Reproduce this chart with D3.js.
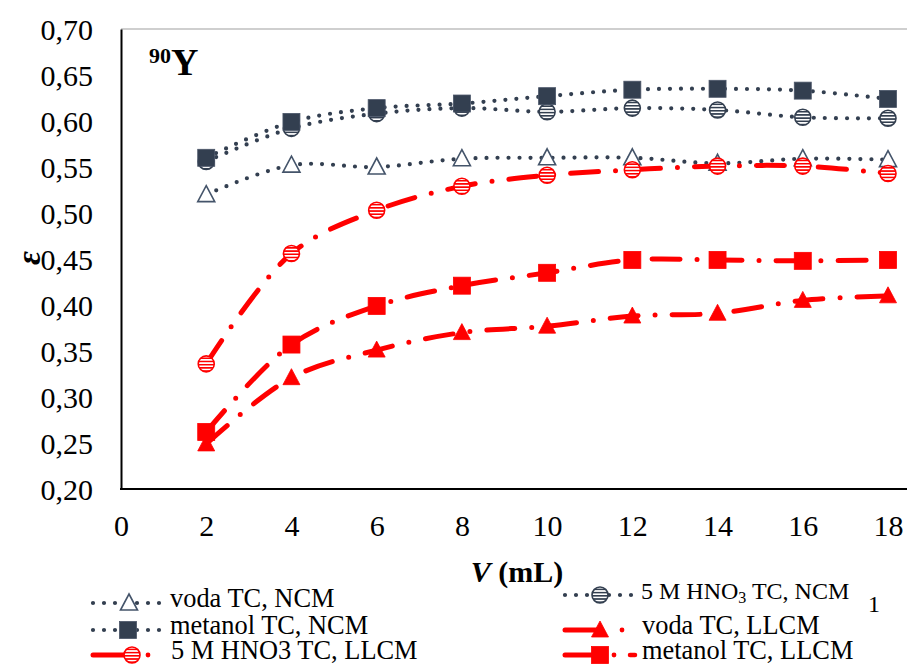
<!DOCTYPE html>
<html><head><meta charset="utf-8">
<script src="https://cdn.jsdelivr.net/npm/d3@7"></script>
</head>
<body style="margin:0;background:#fff">
<svg id="chart" width="907" height="666"></svg>
<script>
const volumes = [2,4,6,8,10,12,14,16,18];
const xTicks = [0,2,4,6,8,10,12,14,16,18];
const yTicks = [0.20,0.25,0.30,0.35,0.40,0.45,0.50,0.55,0.60,0.65,0.70];
const vodaNCM     = [0.520,0.552,0.550,0.559,0.560,0.560,0.554,0.559,0.558];
const hno3NCM     = [0.556,0.592,0.608,0.614,0.610,0.614,0.612,0.604,0.603];
const metanolNCM  = [0.560,0.599,0.614,0.619,0.627,0.634,0.635,0.633,0.624];
const vodaLLCM    = [0.249,0.321,0.351,0.370,0.377,0.388,0.391,0.405,0.410];
const hno3LLCM    = [0.336,0.456,0.503,0.529,0.541,0.547,0.551,0.551,0.543];
const metanolLLCM = [0.262,0.357,0.399,0.421,0.435,0.449,0.449,0.448,0.449];

const DARK = "#333F50", RED = "#FF0000";
const FONT = "Liberation Serif";
const series = [
  {name:"voda TC, NCM", values:vodaNCM, color:DARK, line:"dot", marker:"tri-open"},
  {name:"5 M HNO3 TC, NCM", values:hno3NCM, color:DARK, line:"dot", marker:"circle-stripe"},
  {name:"metanol TC, NCM", values:metanolNCM, color:DARK, line:"dot", marker:"square"},
  {name:"voda TC, LLCM", values:vodaLLCM, color:RED, line:"dashdot", marker:"tri"},
  {name:"5 M HNO3 TC, LLCM", values:hno3LLCM, color:RED, line:"dashdot", marker:"circle-stripe"},
  {name:"metanol TC, LLCM", values:metanolLLCM, color:RED, line:"dashdot", marker:"square"}
];

const svg = d3.select("#chart");
const x = d3.scaleLinear().domain([0,18]).range([121,888]);
const y = d3.scaleLinear().domain([0.20,0.70]).range([489,29]);

const defs = svg.append("defs");
[["stripeDark",DARK],["stripeRed",RED]].forEach(([id,c])=>{
  const p = defs.append("pattern").attr("id",id)
    .attr("patternUnits","objectBoundingBox").attr("patternContentUnits","objectBoundingBox")
    .attr("width",1).attr("height",0.2);
  p.append("rect").attr("width",1).attr("height",0.2).attr("fill","#fff");
  p.append("rect").attr("y",0.1).attr("width",1).attr("height",0.1).attr("fill",c);
});

svg.append("line").attr("x1",121).attr("x2",907).attr("y1",29).attr("y2",29)
  .attr("stroke","#BFBFBF").attr("stroke-width",1.5);

const yAxis = d3.axisLeft(y).tickValues(yTicks).tickSize(0).tickPadding(28)
  .tickFormat(d=>d3.format(".2f")(d).replace(".",","));
const gy = svg.append("g").attr("transform","translate(121,0)").call(yAxis);
gy.select(".domain").attr("stroke","#000").attr("stroke-width",2);
gy.selectAll("text").style("font-family",FONT).style("font-size","30px").attr("fill","#000").attr("dy","0.34em");

const xAxis = d3.axisBottom(x).tickValues(xTicks).tickSize(0).tickPadding(26).tickFormat(d3.format("d"));
const gx = svg.append("g").attr("transform","translate(0,489)").call(xAxis);
gx.select(".domain").remove();
svg.append("line").attr("x1",120).attr("x2",907).attr("y1",489).attr("y2",489)
  .attr("stroke","#000").attr("stroke-width",2);
gx.selectAll("text").style("font-family",FONT).style("font-size","30px").attr("fill","#000");

const xt = svg.append("text").attr("x",517).attr("y",582).attr("text-anchor","middle")
  .style("font-family",FONT).style("font-size","30px").style("font-weight","bold");
xt.append("tspan").style("font-style","italic").text("V");
xt.append("tspan").text(" (mL)");
svg.append("text").attr("transform","translate(40,258) rotate(-90)").attr("text-anchor","middle")
  .style("font-family",FONT).style("font-size","34px").style("font-weight","bold").style("font-style","italic").text("ε");

const iso = svg.append("text").attr("x",149).attr("y",75).style("font-family",FONT).style("font-weight","bold");
iso.append("tspan").style("font-size","22px").attr("dy",-12).text("90");
iso.append("tspan").style("font-size","38px").attr("dy",12).text("Y");

function lineStyle(sel, s){
  sel.attr("fill","none").attr("stroke",s.color).attr("stroke-linecap","round");
  if(s.line==="dot") sel.attr("stroke-width",4.2).attr("stroke-dasharray","0 11");
  else sel.attr("stroke-width",5).attr("stroke-dasharray","28 17 0 17");
}
function drawMarker(g, s, cx, cy){
  const c = s.color;
  if(s.marker==="square"){
    g.append("rect").attr("x",cx-8.5).attr("y",cy-8.5).attr("width",17).attr("height",17)
      .attr("fill",c).attr("stroke", c===DARK?"#4a5568":c).attr("stroke-width",0.8);
  } else if(s.marker==="tri"||s.marker==="tri-open"){
    const h=16,w=17;
    const pts=[[cx,cy-h/2-1],[cx+w/2,cy+h/2-1],[cx-w/2,cy+h/2-1]];
    g.append("path").attr("d",d3.line()(pts)+"Z")
      .attr("fill",s.marker==="tri"?c:"#fff").attr("stroke",s.marker==="tri"?c:"#44546A")
      .attr("stroke-width",s.marker==="tri"?0.8:1.6);
  } else {
    g.append("circle").attr("cx",cx).attr("cy",cy).attr("r",8)
      .attr("fill",c===DARK?"url(#stripeDark)":"url(#stripeRed)")
      .attr("stroke",c).attr("stroke-width",1.6);
  }
}

const lineGen = d3.line().x((d,i)=>x(volumes[i])).y(d=>y(d)).curve(d3.curveCatmullRom.alpha(0.5));
series.forEach(s=>{
  const g = svg.append("g");
  g.append("path").datum(s.values).attr("d",lineGen).call(lineStyle,s);
  s.values.forEach((v,i)=>drawMarker(g,s,x(volumes[i]),y(v)));
});

// legend: dotted samples for NCM, solid lead + dot(s) for LLCM
const legend = [
  {s:series[0], x0:93, x1:162, mx:129, ty:611, tx:170, fs:26.4, label:[["voda TC, NCM"]]},
  {s:series[1], x0:565, x1:633, mx:600, ty:603, tx:641, fs:24, label:[["5 M HNO"],["3","sub"],[" TC, NCM"]]},
  {s:series[2], x0:93, x1:162, mx:128, ty:638, tx:170, fs:26.4, label:[["metanol TC, NCM"]]},
  {s:series[3], x0:565, mx:600, dots:[622], ty:638, tx:642, fs:26.4, label:[["voda TC, LLCM"]]},
  {s:series[4], x0:93, mx:132, dots:[148], ty:663, tx:171, fs:26.4, label:[["5 M HNO3 TC, LLCM"]]},
  {s:series[5], x0:565, mx:600, dots:[614], dash:[630,635], ty:663, tx:642, fs:26.4, label:[["metanol TC, LLCM"]]}
];
legend.forEach(L=>{
  const g = svg.append("g");
  const ly = L.ty-8;
  if(L.s.line==="dot"){
    g.append("path").attr("d",`M${L.x0},${ly}L${L.x1},${ly}`).call(lineStyle,L.s);
  } else {
    g.append("path").attr("d",`M${L.x0},${ly}L${L.mx},${ly}`)
      .attr("stroke",L.s.color).attr("stroke-width",5).attr("stroke-linecap","round");
    L.dots.forEach(dx=>g.append("circle").attr("cx",dx).attr("cy",ly).attr("r",2.4).attr("fill",L.s.color));
    if(L.dash) g.append("path").attr("d",`M${L.dash[0]},${ly}L${L.dash[1]},${ly}`)
      .attr("stroke",L.s.color).attr("stroke-width",4.5).attr("stroke-linecap","round");
  }
  drawMarker(g,L.s,L.mx,ly);
  const t = g.append("text").attr("x",L.tx).attr("y",L.ty)
    .style("font-family",FONT).style("font-size",L.fs+"px").attr("fill","#000");
  L.label.forEach(([str,kind])=>{
    if(kind==="sub") t.append("tspan").style("font-size","16px").attr("dy",4).text(str);
    else t.append("tspan").attr("dy",t.selectAll("tspan").size()?-4:0).text(str);
  });
});
svg.append("text").attr("x",868).attr("y",612).style("font-family",FONT).style("font-size","24px").text("1");
</script>
</body></html>
